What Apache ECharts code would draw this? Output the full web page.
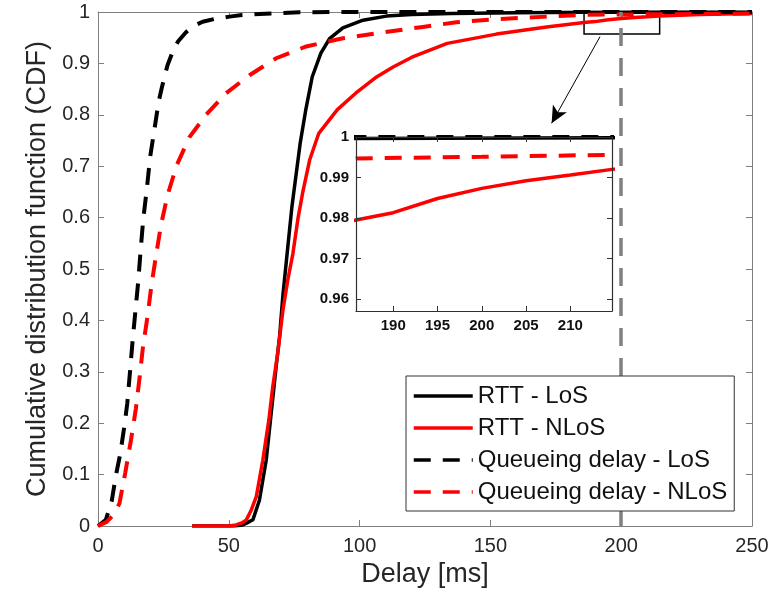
<!DOCTYPE html>
<html>
<head>
<meta charset="utf-8">
<script src="https://cdn.jsdelivr.net/npm/echarts@6/dist/echarts.min.js"></script>
<style>
  html, body { margin: 0; padding: 0; background: #fff; }
  #cdf { width: 772px; height: 597px; }
</style>
</head>
<body>
<div id="cdf"></div>
<script>
// delay [ms] / CDF pairs
var rttLosDelay = [36, 52, 55.3, 57, 59.2, 61.7, 64.3, 66.2, 68.1, 69.4, 70.7, 72, 74.1, 77.3, 79.4, 81.9, 85.2, 88.5, 93.6, 101.3, 110.2, 120, 135, 160, 185, 215, 250];
var rttLosCdf = [0, 0, 0.002, 0.006, 0.012, 0.05, 0.128, 0.219, 0.31, 0.368, 0.45, 0.515, 0.62, 0.745, 0.809, 0.874, 0.92, 0.948, 0.969, 0.984, 0.992, 0.995, 0.997, 0.9985, 0.9996, 0.9998, 1];

var rttNlosDelay = [36, 50, 52.8, 55, 56.7, 58.5, 60.5, 63, 65.3, 66.8, 68.7, 70.7, 72.6, 74.5, 76.5, 78.3, 80.9, 84.4, 91.5, 98.5, 106, 112.8, 120, 133.5, 152.3, 171.5, 185.8, 190, 195, 200, 205, 210, 214.7, 230, 250];
var rttNlosCdf = [0, 0, 0.002, 0.006, 0.012, 0.03, 0.057, 0.128, 0.206, 0.271, 0.336, 0.42, 0.48, 0.53, 0.6, 0.65, 0.712, 0.764, 0.81, 0.842, 0.872, 0.893, 0.912, 0.939, 0.957, 0.971, 0.9795, 0.9813, 0.9848, 0.9873, 0.9892, 0.9906, 0.992, 0.995, 0.997];

var queueLosDelay = [0, 3, 5.3, 6.9, 8.5, 10.1, 11.2, 12.2, 13.2, 14.3, 15.4, 16.3, 17.3, 18.7, 19.9, 21.7, 23.2, 24.5, 26.6, 28.5, 30.5, 33.7, 37, 40, 45, 50.3, 55, 61.7, 70, 77, 90, 250];
var queueLosCdf = [0, 0.012, 0.05, 0.1, 0.14, 0.195, 0.239, 0.298, 0.359, 0.418, 0.477, 0.537, 0.597, 0.657, 0.717, 0.776, 0.826, 0.855, 0.897, 0.922, 0.942, 0.961, 0.974, 0.981, 0.987, 0.991, 0.994, 0.996, 0.998, 0.9995, 1, 1];

var queueNlosDelay = [0, 3.3, 6, 8.2, 10.4, 12.6, 14.5, 15.9, 17.2, 18.9, 20.4, 22.2, 24.1, 26.6, 30.1, 34.9, 41.3, 49, 57.9, 68.1, 79.6, 93.6, 112.8, 124.2, 137, 152.3, 171.5, 185.8, 200, 214.7, 250];
var queueNlosCdf = [0, 0.008, 0.022, 0.044, 0.103, 0.167, 0.229, 0.289, 0.349, 0.407, 0.467, 0.527, 0.586, 0.644, 0.702, 0.756, 0.8, 0.842, 0.877, 0.91, 0.933, 0.949, 0.963, 0.971, 0.98, 0.986, 0.991, 0.9947, 0.9951, 0.9956, 0.997];

var seriesNames = ['RTT - LoS', 'RTT - NLoS', 'Queueing delay - LoS', 'Queueing delay - NLoS'];

// axes / annotations
var delayRange = [0, 250];
var cdfRange = [0, 1];
var thresholdDelay = 200;
var zoomDelay = [185.8, 214.7];
var zoomCdf = [0.957, 1];
var insetDelayTicks = [190, 195, 200, 205, 210];
var insetCdfTicks = [0.96, 0.97, 0.98, 0.99, 1];
var arrowFrom = [191.9, 0.952];
var arrowTo = [173.4, 0.7835];

function zip(xs, ys) {
  return xs.map(function (x, i) { return [x, ys[i]]; });
}

var FONT = '"Liberation Sans", Arial, sans-serif';
var AXIS_GRAY = '#7f7f7f';
var TEXT = '#262626';

var curves = [
  { data: zip(rttLosDelay, rttLosCdf), color: '#000000', dashed: false },
  { data: zip(rttNlosDelay, rttNlosCdf), color: '#ff0000', dashed: false },
  { data: zip(queueLosDelay, queueLosCdf), color: '#000000', dashed: true },
  { data: zip(queueNlosDelay, queueNlosCdf), color: '#ff0000', dashed: true }
];

function lineSeries(c, i, axisIdx, z) {
  return {
    name: seriesNames[i],
    type: 'line',
    xAxisIndex: axisIdx,
    yAxisIndex: axisIdx,
    data: c.data,
    symbol: 'none',
    smooth: false,
    clip: true,
    z: z,
    silent: true,
    color: c.color,
    lineStyle: {
      color: c.color,
      width: c.dashed ? 4 : 3.5,
      type: c.dashed ? [17, 12] : 'solid'
    }
  };
}

function boxAxis(pos, gridIdx, min, max, interval) {
  return {
    type: 'value',
    gridIndex: gridIdx,
    position: pos,
    min: min,
    max: max,
    interval: interval,
    z: 0,
    splitLine: { show: false },
    axisLine: { show: true, onZero: false, lineStyle: { color: AXIS_GRAY, width: 1 } },
    axisTick: { show: true, inside: true, length: 6, lineStyle: { color: AXIS_GRAY } },
    axisLabel: { show: false }
  };
}

var xMain = boxAxis('bottom', 0, delayRange[0], delayRange[1], 50);
xMain.axisLabel = { show: true, color: TEXT, fontSize: 20, fontFamily: FONT, margin: 10 };
xMain.name = 'Delay [ms]';
xMain.nameLocation = 'middle';
xMain.nameGap = 31;
xMain.nameTextStyle = { color: TEXT, fontSize: 27, fontFamily: FONT };

var yMain = boxAxis('left', 0, cdfRange[0], cdfRange[1], 0.1);
yMain.axisLabel = { show: true, color: TEXT, fontSize: 20, fontFamily: FONT, margin: 8 };
yMain.name = 'Cumulative distribution function (CDF)';
yMain.nameLocation = 'middle';
yMain.nameRotate = 90;
yMain.nameGap = 42;
yMain.nameTextStyle = { color: TEXT, fontSize: 27, fontFamily: FONT };

var INSET_AXIS = '#303030';
function insetAxis(pos, min, max, ticks, labels) {
  var a = {
    type: 'value',
    gridIndex: 1,
    position: pos,
    min: min,
    max: max,
    z: 12,
    splitLine: { show: false },
    axisLine: { show: true, onZero: false, lineStyle: { color: INSET_AXIS, width: 1.2 } },
    axisTick: { show: true, inside: true, length: 5, customValues: ticks, lineStyle: { color: INSET_AXIS } },
    axisLabel: { show: false, customValues: ticks }
  };
  if (labels) {
    a.axisLabel = {
      show: true, customValues: ticks, color: '#111', fontSize: 15,
      fontWeight: 'bold', fontFamily: FONT, margin: 7
    };
  }
  return a;
}

var series = [];
curves.forEach(function (c, i) { series.push(lineSeries(c, i, 0, 2)); });
curves.forEach(function (c, i) { series.push(lineSeries(c, i, 2, 11)); });

// threshold line in main plot
series.push({
  type: 'line', xAxisIndex: 0, yAxisIndex: 0, data: [], silent: true, z: 1,
  markLine: {
    silent: true, symbol: 'none', animation: false,
    label: { show: false },
    lineStyle: { color: '#808080', width: 3.5, type: [18, 12] },
    data: [{ xAxis: thresholdDelay }]
  }
});
// threshold line in inset
series.push({
  type: 'line', xAxisIndex: 2, yAxisIndex: 2, data: [], silent: true, z: 10,
  markLine: {
    silent: true, symbol: 'none', animation: false,
    label: { show: false },
    lineStyle: { color: '#808080', width: 3.5, type: [15, 14] },
    data: [{ xAxis: thresholdDelay }]
  }
});
// zoom box and arrow
series.push({
  type: 'line', xAxisIndex: 0, yAxisIndex: 0, data: [], silent: true, z: 5,
  markArea: {
    silent: true,
    itemStyle: { color: 'rgba(0,0,0,0)', borderColor: '#000', borderWidth: 1.5 },
    data: [[{ coord: [zoomDelay[0], zoomCdf[0]] }, { coord: [zoomDelay[1], zoomCdf[1]] }]]
  },
  markLine: {
    silent: true, animation: false,
    symbol: ['none', 'arrow'],
    symbolSize: [12, 17],
    label: { show: false },
    lineStyle: { color: '#000', width: 1, type: 'solid' },
    data: [[{ coord: arrowFrom }, { coord: arrowTo }]]
  }
});

var chart = echarts.init(document.getElementById('cdf'), null, { renderer: 'canvas' });
chart.setOption({
  animation: false,
  backgroundColor: '#ffffff',
  textStyle: { fontFamily: FONT },
  grid: [
    { left: 98, right: 20, top: 12, bottom: 71, show: false },
    { left: 356, top: 137, width: 256, height: 174, show: true, z: 10,
      backgroundColor: '#ffffff', borderWidth: 0 }
  ],
  xAxis: [
    xMain,
    boxAxis('top', 0, delayRange[0], delayRange[1], 50),
    insetAxis('bottom', zoomDelay[0], zoomDelay[1], insetDelayTicks, true),
    insetAxis('top', zoomDelay[0], zoomDelay[1], insetDelayTicks, false)
  ],
  yAxis: [
    yMain,
    boxAxis('right', 0, cdfRange[0], cdfRange[1], 0.1),
    insetAxis('left', zoomCdf[0], zoomCdf[1], insetCdfTicks, true),
    insetAxis('right', zoomCdf[0], zoomCdf[1], insetCdfTicks, false)
  ],
  legend: {
    data: seriesNames,
    orient: 'vertical',
    left: 406,
    top: 376,
    padding: [8, 7, 7, 6],
    itemWidth: 59,
    itemHeight: 14,
    itemGap: 8,
    selectedMode: false,
    backgroundColor: '#ffffff',
    borderColor: '#333',
    borderWidth: 1,
    z: 20,
    itemStyle: { opacity: 0 },
    lineStyle: { width: 3.5 },
    textStyle: { color: '#111', fontSize: 24, fontFamily: FONT }
  },
  series: series
});
</script>
</body>
</html>
